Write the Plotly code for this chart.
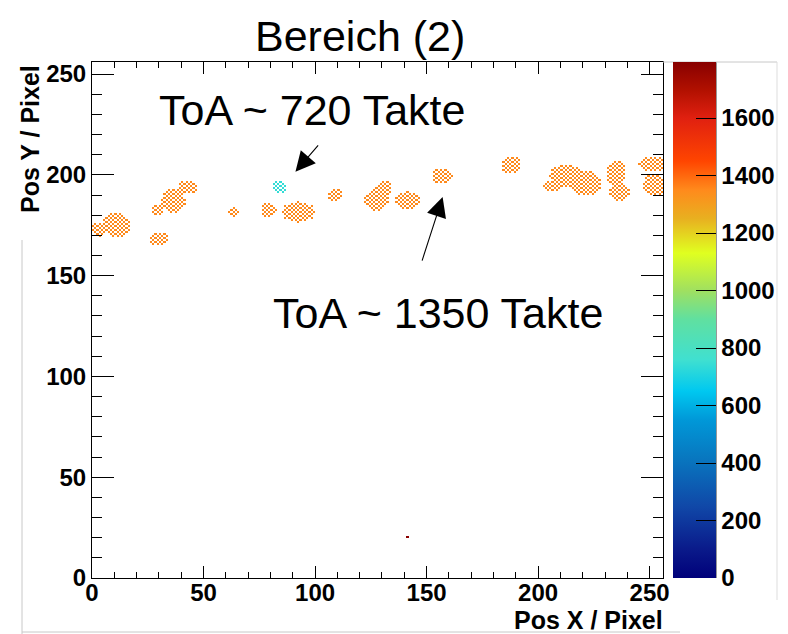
import numpy as np
import plotly.graph_objects as go

# ---------------- data ----------------
title_text = "Bereich (2)"
x_title = "Pos X / Pixel"
y_title = "Pos Y / Pixel"
label_720 = "ToA ~ 720 Takte"
label_1350 = "ToA ~ 1350 Takte"

n_pix = 256
z_max = 1795

# cluster blobs: centre (pixel), half widths (pixel), ToA (clock cycles)
cl_x = [3.5, 11, 30, 29.5, 36.5, 43, 63.5, 79, 92.5, 84, 109, 127.5, 131, 141.5,
        157, 188, 206.5, 212.5, 221, 235, 236.5, 251, 252]
cl_y = [173, 175, 168, 182.5, 187, 194, 181.5, 182.5, 181.5, 194, 190, 187.5, 193.5, 187,
        199.5, 205, 194.5, 199.5, 196, 201, 191.5, 205.5, 195]
cl_rx = [4, 6, 4, 2.5, 5.5, 4, 3, 3.5, 7.5, 3, 3.5, 5.5, 3.5, 5.5,
         4.5, 4.5, 4, 7.5, 7.5, 4.5, 4.5, 6, 5]
cl_ry = [3.5, 6.5, 3.5, 2.5, 6, 3.5, 2, 3.5, 5, 3, 3.5, 5.5, 3.5, 4.5,
         4, 4.5, 3, 5.5, 6.5, 6, 4.5, 4, 5.5]
cl_toa = [1350, 1350, 1350, 1350, 1350, 1350, 1350, 1350, 1350, 740, 1350, 1350, 1350, 1350,
          1350, 1350, 1350, 1350, 1350, 1350, 1350, 1350, 1350]

# single hot pixel
hot_x = [141]
hot_y = [20]
hot_toa = [1790]

# colour palette (value -> colour)
pal_val = [0, 100, 250, 420, 550, 650, 760, 900, 1000, 1130, 1250, 1350, 1450, 1600, 1700, 1795]
pal_col = ["#00007a", "#0a1a8a", "#1048a8", "#0878c0", "#0098d8", "#00c8f0", "#40e0d0",
           "#60e0a0", "#a0e060", "#e0ff20", "#e8b020", "#ff8a1c", "#ff4500", "#e02010",
           "#b01000", "#880000"]

# ---------------- build histogram ----------------
ix, iy = np.meshgrid(np.arange(n_pix), np.arange(n_pix))
cx = ix + 0.5
cy = iy + 0.5
checker = (ix + iy) % 2 == 0
z = np.full((n_pix, n_pix), np.nan)
for x0, y0, rx, ry, t in zip(cl_x, cl_y, cl_rx, cl_ry, cl_toa):
    m = ((cx - x0) / rx) ** 2 + ((cy - y0) / ry) ** 2 <= 1.0
    z[m & checker] = t
for hx, hy, ht in zip(hot_x, hot_y, hot_toa):
    z[hy, hx] = ht
z_list = [[None if np.isnan(v) else float(v) for v in row] for row in z]

colorscale = [[v / z_max, c] for v, c in zip(pal_val, pal_col)]

FONT = "Liberation Sans, Arial, Helvetica, sans-serif"

fig = go.Figure()
fig.add_trace(go.Heatmap(
    z=z_list,
    x=np.arange(n_pix) + 0.5,
    y=np.arange(n_pix) + 0.5,
    zmin=0, zmax=z_max,
    colorscale=colorscale,
    hoverongaps=False,
    colorbar=dict(
        thickness=43, thicknessmode="pixels",
        len=1, lenmode="fraction",
        x=(673 - 92) / 571, xanchor="left", xpad=0,
        y=0.5, yanchor="middle", ypad=0,
        ticks="inside", ticklen=20, tickcolor="black", tickwidth=1,
        tick0=0, dtick=200,
        tickfont=dict(family=FONT, size=24, color="black", weight="bold"),
        outlinewidth=0,
    ),
))

axis_common = dict(
    showgrid=False, zeroline=False,
    showline=True, linecolor="black", linewidth=1, mirror="ticks",
    ticks="inside", tickcolor="black", tickwidth=1,
    tick0=0, dtick=50,
    tickfont=dict(family=FONT, size=24, color="black", weight="bold"),
)
fig.update_xaxes(range=[0, n_pix], ticklen=12, ticklabelstandoff=-7,
                 minor=dict(dtick=10, ticks="inside", ticklen=6, tickcolor="black"),
                 **axis_common)
fig.update_yaxes(range=[0, n_pix], ticklen=22,
                 minor=dict(dtick=10, ticks="inside", ticklen=10, tickcolor="black"),
                 **axis_common)


def px_x(p):
    return (p - 92) / 571


def px_y(p):
    return (578 - p) / 516


annotations = [
    dict(text=title_text, xref="paper", yref="paper", x=px_x(360), y=px_y(36),
         xanchor="center", yanchor="middle", showarrow=False,
         font=dict(family=FONT, size=43, color="black")),
    dict(text=label_720, xref="paper", yref="paper", x=px_x(312), y=px_y(110),
         xanchor="center", yanchor="middle", showarrow=False,
         font=dict(family=FONT, size=43, color="black")),
    dict(text=label_1350, xref="paper", yref="paper", x=px_x(438), y=px_y(313),
         xanchor="center", yanchor="middle", showarrow=False,
         font=dict(family=FONT, size=43, color="black")),
    dict(text=x_title, xref="paper", yref="paper", x=px_x(665), y=px_y(620),
         xanchor="right", yanchor="middle", showarrow=False,
         font=dict(family=FONT, size=25, color="black", weight="bold")),
    dict(text=y_title, xref="paper", yref="paper", x=px_x(30), y=px_y(63),
         xanchor="center", yanchor="top", showarrow=False, textangle=-90,
         font=dict(family=FONT, size=25, color="black", weight="bold")),
    # arrows
    dict(text="", x=91.2, y=201.5, xref="x", yref="y", ax=24, ay=-28,
         showarrow=True, arrowhead=2, arrowsize=3.6, arrowwidth=1.1, arrowcolor="black"),
    dict(text="", x=157.2, y=189.0, xref="x", yref="y", ax=-21, ay=65,
         showarrow=True, arrowhead=2, arrowsize=3.6, arrowwidth=1.1, arrowcolor="black"),
]

shapes = [
    # right edge of colour bar
    dict(type="line", xref="paper", yref="paper", x0=px_x(716), x1=px_x(716), y0=0, y1=1,
         line=dict(color="#333333", width=1)),
    # light grey frame lines of the original slide
    dict(type="line", xref="paper", yref="paper", x0=px_x(22), x1=px_x(22), y0=px_y(240), y1=px_y(634),
         line=dict(color="#c8c8c8", width=1)),
    dict(type="line", xref="paper", yref="paper", x0=px_x(22), x1=px_x(680), y0=px_y(632), y1=px_y(632),
         line=dict(color="#c8c8c8", width=1)),
    dict(type="line", xref="paper", yref="paper", x0=px_x(663), x1=px_x(777), y0=1, y1=1,
         line=dict(color="#c8c8c8", width=1)),
    dict(type="line", xref="paper", yref="paper", x0=px_x(777), x1=px_x(777), y0=1, y1=px_y(600),
         line=dict(color="#dddddd", width=1)),
]

fig.update_layout(
    width=788, height=634, autosize=False,
    margin=dict(l=92, r=125, t=62, b=56, pad=0, autoexpand=False),
    paper_bgcolor="white", plot_bgcolor="white",
    annotations=annotations, shapes=shapes,
    showlegend=False,
)

fig.write_html("out.html")
